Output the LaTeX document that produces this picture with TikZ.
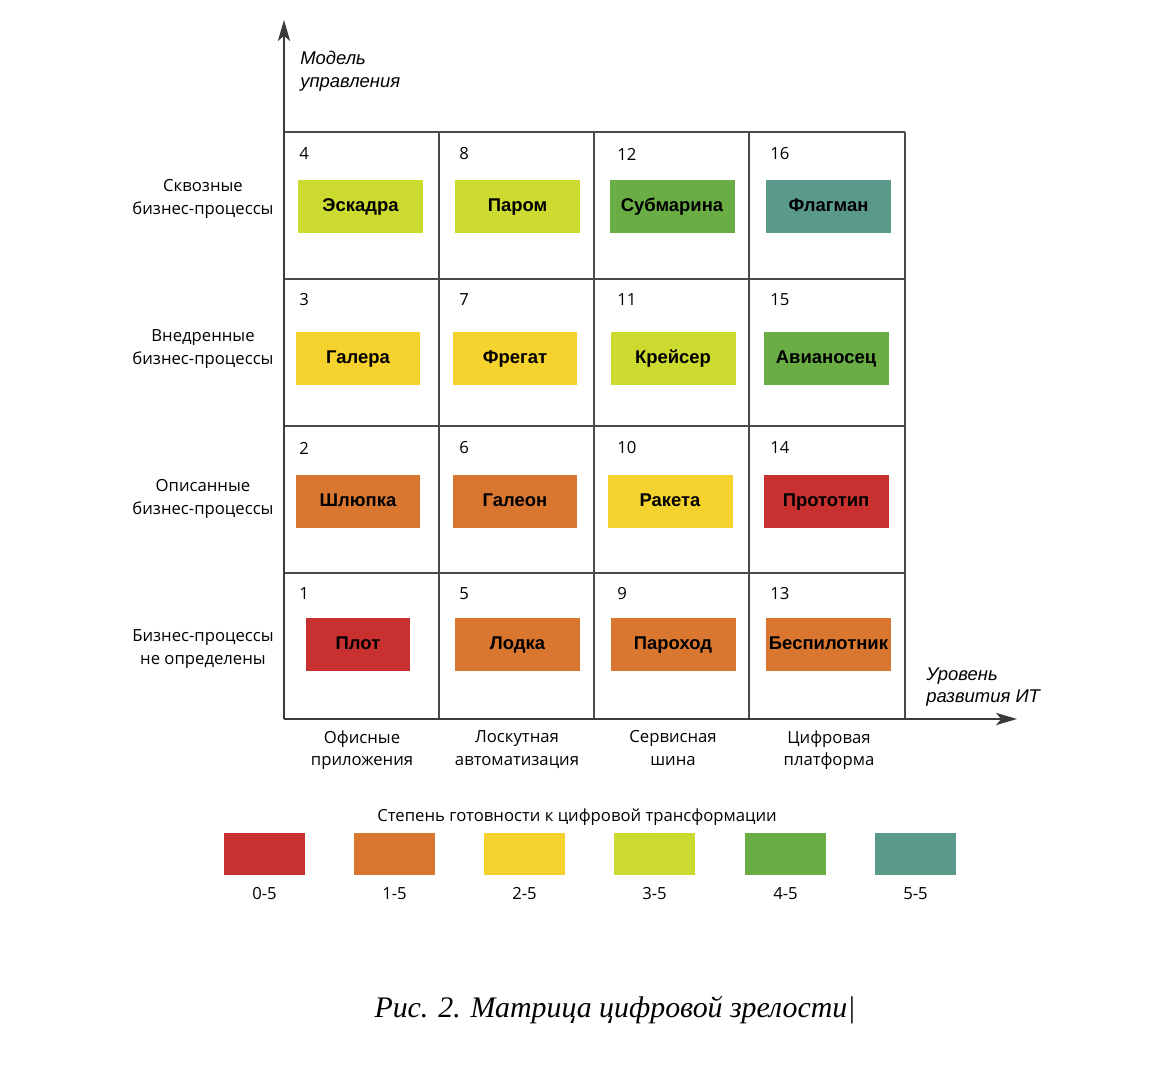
\documentclass[tikz,border=0pt]{standalone}
\usepackage{fontspec}
\setmainfont{Open Sans}
\newfontfamily\boxfont{Liberation Sans}
\newfontfamily\capfont{Liberation Serif}
\usepackage{tikz}
\usetikzlibrary{arrows.meta}
\definecolor{lvlred}{HTML}{C8312F}
\definecolor{lvlorange}{HTML}{D97730}
\definecolor{lvlyellow}{HTML}{F5D22E}
\definecolor{lvllime}{HTML}{CDDA2F}
\definecolor{lvlgreen}{HTML}{6AAD45}
\definecolor{lvlteal}{HTML}{5A9A8A}
\definecolor{gridgray}{HTML}{4A4A4A}
\tikzset{ship/.style={minimum width=2.5cm,minimum height=1.06cm,inner sep=0pt,
        text height=1.6ex,text depth=0.5ex,
        font=\boxfont\bfseries\fontsize{10.5}{12}\selectfont},
    cellnum/.style={anchor=west,inner sep=0pt,font=\fontsize{9.5}{11}\selectfont},
    rowlabel/.style={align=center,inner sep=0pt,text depth=0.6ex,font=\fontsize{9.5}{13}\selectfont},
    axislabel/.style={align=left,inner sep=0pt,font=\boxfont\itshape\fontsize{10.5}{13}\selectfont},
    legendbox/.style={minimum width=1.62cm,minimum height=0.84cm,inner sep=0pt},
    gridline/.style={draw=gridgray,line width=0.8pt},
    axis/.style={draw=gridgray!80!black,line width=0.9pt,-{Stealth[length=12pt,width=7pt,inset=3pt]}}}

\begin{document}
\begin{tikzpicture}[x=0.02cm,y=-0.02cm]
\useasboundingbox (0,0) rectangle (1172,1070);
% grid
\foreach \gx in {439,594,749,905}
    \draw[gridline] (\gx,132) -- (\gx,719);
\foreach \gy in {132,279,426,573}
    \draw[gridline] (284,\gy) -- (905,\gy);
% axes
\coordinate (origin) at (284,719);
\coordinate (ytip) at (284,20);
\coordinate (xtip) at (1017,719);
\draw[axis] (origin) -- (ytip);
\draw[axis] (origin) -- (xtip);
\node[axislabel,anchor=west] (ylab) at (300,71) {Модель\\управления};
\node[axislabel,anchor=west] (xlab) at (926,687) {Уровень\\развития ИТ};
% row labels
\node[rowlabel] (row4) at (203,200) {Сквозные\\бизнес-процессы};
\node[rowlabel] (row3) at (203,350) {Внедренные\\бизнес-процессы};
\node[rowlabel] (row2) at (203,500) {Описанные\\бизнес-процессы};
\node[rowlabel] (row1) at (203,650) {Бизнес-процессы\\не определены};
% column labels
\node[rowlabel] (col1) at (362,751) {Офисные\\приложения};
\node[rowlabel] (col2) at (517,751) {Лоскутная\\автоматизация};
\node[rowlabel] (col3) at (673,751) {Сервисная\\шина};
\node[rowlabel] (col4) at (829,751) {Цифровая\\платформа};
% cell numbers
\foreach \num/\nx/\ny in {4/299/154,8/459/154,12/617/154,16/770/154,
    3/299/300,7/459/300,11/617/300,15/770/300,
    2/299/448,6/459/448,10/617/448,14/770/448,
    1/299/594,5/459/594,9/617/594,13/770/594}
    \node[cellnum] (n\num) at (\nx,\ny) {\num};
% ships
\node[ship,fill=lvllime] (s4) at (360.5,206.5) {Эскадра};
\node[ship,fill=lvllime] (s8) at (517.5,206.5) {Паром};
\node[ship,fill=lvlgreen] (s12) at (672,206.5) {Субмарина};
\node[ship,fill=lvlteal] (s16) at (828.5,206.5) {Флагман};
\node[ship,fill=lvlyellow] (s3) at (358,358.5) {Галера};
\node[ship,fill=lvlyellow] (s7) at (515,358.5) {Фрегат};
\node[ship,fill=lvllime] (s11) at (673,358.5) {Крейсер};
\node[ship,fill=lvlgreen] (s15) at (826,358.5) {Авианосец};
\node[ship,fill=lvlorange] (s2) at (358,501.5) {Шлюпка};
\node[ship,fill=lvlorange] (s6) at (515,501.5) {Галеон};
\node[ship,fill=lvlyellow] (s10) at (670,501.5) {Ракета};
\node[ship,fill=lvlred] (s14) at (826,501.5) {Прототип};
\node[ship,fill=lvlred,minimum width=2.08cm] (s1) at (358,644.5) {Плот};
\node[ship,fill=lvlorange] (s5) at (517.5,644.5) {Лодка};
\node[ship,fill=lvlorange] (s9) at (673,644.5) {Пароход};
\node[ship,fill=lvlorange] (s13) at (828.5,644.5) {Беспилотник};
% legend
\node[rowlabel] (legtitle) at (577,818) {Степень готовности к цифровой трансформации};
\foreach \lname/\lx/\lcol/\ltxt in {l0/264.5/lvlred/0-5,l1/394.5/lvlorange/1-5,
    l2/524.5/lvlyellow/2-5,l3/654.5/lvllime/3-5,l4/785.5/lvlgreen/4-5,l5/915.5/lvlteal/5-5}{
    \node[legendbox,fill=\lcol] (\lname) at (\lx,854) {};
    \node[rowlabel] (\lname txt) at (\lx,896) {\ltxt};
}
% caption
\node[inner sep=0pt,font=\capfont\itshape\fontsize{17}{20}\selectfont] (caption) at (615,1010)
    {Рис. 2. Матрица цифровой зрелости\textbar};
\end{tikzpicture}
\end{document}
